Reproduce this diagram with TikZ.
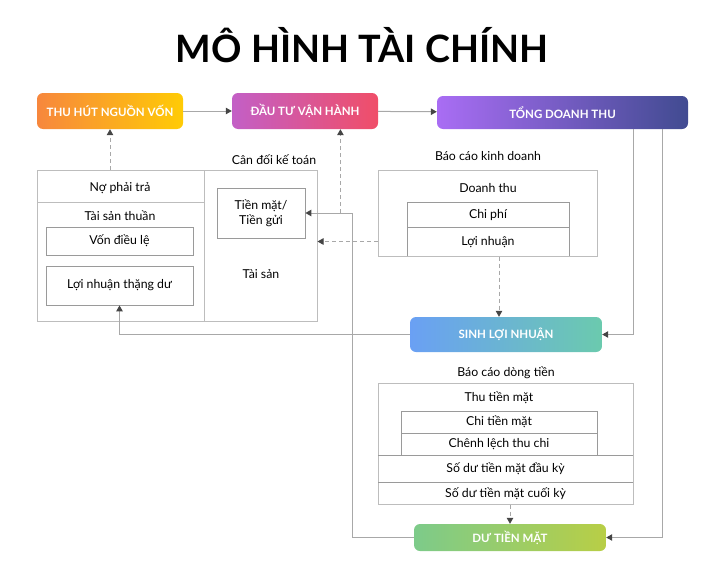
\documentclass[tikz,border=0pt]{standalone}
\usepackage{fontspec}
\setmainfont{Lato}
\usetikzlibrary{arrows.meta}
\definecolor{orgA}{HTML}{F7873D}
\definecolor{orgB}{HTML}{FFCB05}
\definecolor{purA}{HTML}{C35FC6}
\definecolor{purB}{HTML}{F04E68}
\definecolor{vioA}{HTML}{A96DF4}
\definecolor{vioB}{HTML}{414B91}
\definecolor{bluA}{HTML}{6AA0F4}
\definecolor{bluB}{HTML}{6BCAAE}
\definecolor{grnA}{HTML}{7DCB8A}
\definecolor{grnB}{HTML}{B8CE46}
\definecolor{framegray}{HTML}{BDBDBD}
\definecolor{cellgray}{HTML}{9A9A9A}
\definecolor{linegray}{HTML}{A8A8A8}
\definecolor{tipgray}{HTML}{454545}
\begin{document}
\begin{tikzpicture}[x=1pt,y=-1pt,
    every node/.style={inner sep=0pt,font=\fontsize{12.3}{15}\selectfont},
    pill/.style={rounded corners=6pt,text=white,font=\bfseries\fontsize{11.5}{13}\selectfont},
    frame/.style={draw=framegray,line width=1pt},
    cell/.style={draw=cellgray,line width=0.8pt},
    conn/.style={draw=linegray,line width=1pt,-{Triangle[length=6pt,width=6.5pt,color=tipgray]}},
    dashconn/.style={conn,dash pattern=on 4pt off 3pt}]
  \useasboundingbox (0,0) rectangle (720,570);
  \node[font=\bfseries\fontsize{37.7}{40}\selectfont] (title) at (362,45) {MÔ HÌNH TÀI CHÍNH};
  \draw
    (110,111) node[pill,left color=orgA,right color=orgB,minimum width=146pt,minimum height=36pt] (thuhut){THU HÚT NGUỒN VỐN}
    (305,111) node[pill,left color=purA,right color=purB,minimum width=146pt,minimum height=36pt] (dautu){ĐẦU TƯ VẬN HÀNH}
    (562.5,112.5) node[pill,left color=vioA,right color=vioB,minimum width=251pt,minimum height=33pt] (tongdt){TỔNG DOANH THU}
    (506,334.5) node[pill,left color=bluA,right color=bluB,minimum width=192pt,minimum height=35pt] (sinhloi){SINH LỢI NHUẬN}
    (510,537.5) node[pill,left color=grnA,right color=grnB,minimum width=192pt,minimum height=27pt] (dutien){DƯ TIỀN MẶT};
  \draw
    (177,245.5) node[frame,minimum width=280pt,minimum height=151pt] (cdkt){}
    (274,160) node (cdktlabel){Cân đối kế toán}
    (120,188) node (nophaitra){Nợ phải trả}
    (120,216) node (tsthuan){Tài sản thuần}
    (119.5,241) node[cell,minimum width=147pt,minimum height=28pt] (vondieule){Vốn điều lệ}
    (119.5,285.5) node[cell,minimum width=147pt,minimum height=39pt] (lnthangdu){Lợi nhuận thặng dư}
    (261,213) node[cell,minimum width=88pt,minimum height=50pt,align=center] (tienmat){Tiền mặt/\\Tiền gửi}
    (261,274) node (taisan){Tài sản};
  \draw[frame] (204,170) -- (204,321) (37,202) -- (204,202);
  \draw
    (487.5,213) node[frame,minimum width=219pt,minimum height=86pt] (bckd){}
    (488,156) node (bckdlabel){Báo cáo kinh doanh}
    (488,188) node (doanhthu){Doanh thu}
    (488,215) node (chiphi){Chi phí}
    (488,242) node (loinhuan){Lợi nhuận};
  \draw[cell] (407,256) -- (407,202) -- (569,202) -- (569,256) (407,227) -- (569,227);
  \draw
    (505.5,443.5) node[frame,minimum width=255pt,minimum height=121pt] (bcdt){}
    (506,373) node (bcdtlabel){Báo cáo dòng tiền}
    (499,398) node (thutien){Thu tiền mặt}
    (499,422) node (chitien){Chi tiền mặt}
    (499,444) node (chenhlech){Chênh lệch thu chi}
    (505.5,469) node (daukythu){Số dư tiền mặt đầu kỳ}
    (505.5,494) node (cuoiky){Số dư tiền mặt cuối kỳ};
  \draw[cell] (401,455) -- (401,411) -- (597,411) -- (597,455) (401,433) -- (597,433)
    (378,455) -- (633,455) (378,482) -- (633,482);
  \coordinate (tienbus) at ([xshift=47pt]tienmat.east);
  \coordinate (dautubranch) at ([xshift=35pt]tienmat.east);
  \begin{scope}
    \draw[conn] (thuhut) -- (dautu);
    \draw[conn] (dautu) -- (tongdt);
    \draw[dashconn] (cdkt.north -| thuhut.south) -- (thuhut.south);
    \draw[dashconn] (dautubranch) -- (dautubranch |- dautu.south);
    \draw[conn] (dutien.west) -| (tienbus) -- (tienmat.east);
    \draw[dashconn] ([yshift=15pt]bckd.south west) -- ([yshift=15pt]bckd.south west -| cdkt.east);
    \draw[dashconn] ([xshift=-7pt]sinhloi.north |- bckd.south) -- ([xshift=-7pt]sinhloi.north);
    \draw[conn] ([xshift=70.5pt]tongdt.south) |- (sinhloi.east);
    \draw[conn] ([xshift=99.5pt]tongdt.south) |- (dutien.east);
    \draw[conn] (sinhloi.west) -| (lnthangdu.south);
    \draw[dashconn] (bcdt.south -| dutien.north) -- (dutien.north);
  \end{scope}
\end{tikzpicture}
\end{document}
